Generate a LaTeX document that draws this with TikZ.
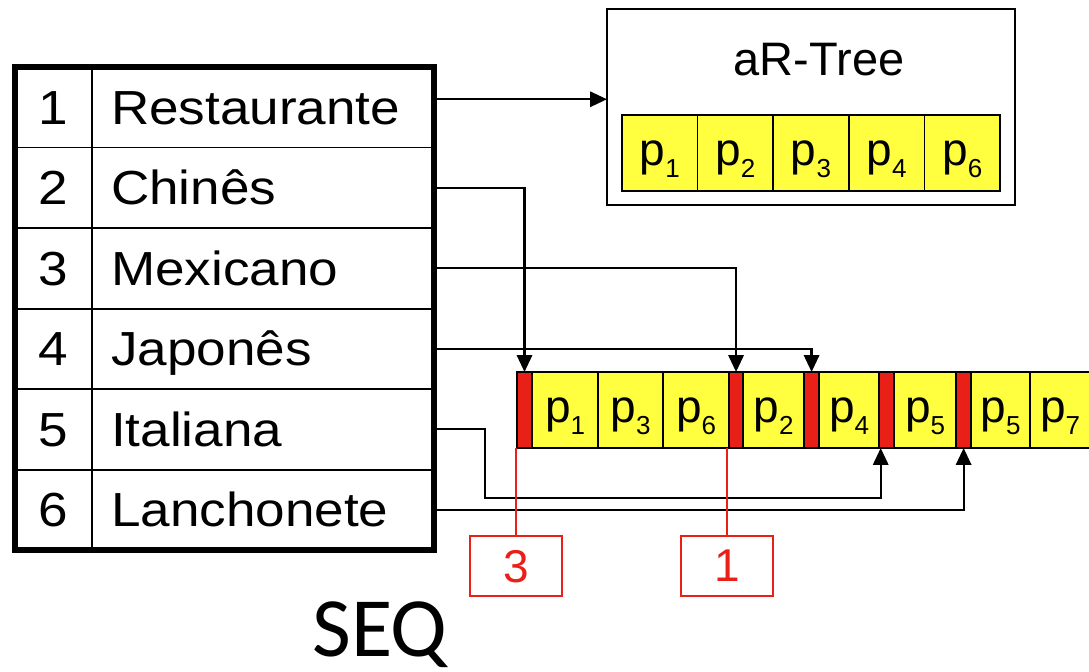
\documentclass[tikz,border=0pt]{standalone}
\usepackage{fontspec}
\setmainfont{Liberation Sans}
\newfontfamily\tabfont[FakeStretch=1.11]{Liberation Sans}
\newfontfamily\seqfont{Carlito}
\usetikzlibrary{positioning,arrows.meta}
\definecolor{cellyellow}{RGB}{255,255,64}
\definecolor{barred}{RGB}{232,32,24}
\newcommand{\pp}[1]{p\raisebox{-0.28em}{\fontsize{18.5pt}{19pt}\selectfont #1}}
\tikzset{
  numcell/.style={draw, line width=1.4pt, minimum width=1.925cm, minimum height=2.0125cm,
    inner sep=0pt, outer sep=0pt, text height=0.85cm, text depth=0pt,
    font=\tabfont\fontsize{34pt}{36pt}\selectfont},
  namecell/.style={numcell, text width=7.6cm, align=left, inner xsep=0.475cm},
  segcell/.style={draw, line width=1.1pt, fill=cellyellow, minimum height=1.9cm,
    inner sep=0pt, outer sep=0pt, text height=0.6cm, text depth=0pt,
    font=\fontsize{32.7pt}{34pt}\selectfont},
  segbar/.style={segcell, fill=barred},
  numbox/.style={draw=barred, line width=1.4pt, minimum width=2.3cm, minimum height=1.5cm,
    text=barred, text depth=0pt, font=\fontsize{32.7pt}{34pt}\selectfont},
  link/.style={line width=1.6pt, -{Triangle[length=0.42cm,width=0.38cm]}},
  redlink/.style={draw=barred, line width=1.4pt}
}
\begin{document}
\begin{tikzpicture}[x=0.025cm, y=-0.025cm]
\useasboundingbox (0,0) rectangle (1089,671);
\foreach \nm [count=\i] in {Restaurante,Chinês,Mexicano,Japonês,Italiana,Lanchonete} {
  \node[numcell] (n\i) at (53.5,{67+80.5*(\i-0.5)}) {\i};
  \node[namecell, right=0pt of n\i] (r\i) {\nm};
}
\draw[line width=4.3pt] (n1.north west) rectangle (r6.south east);
\node[draw, line width=1.4pt, minimum width=10.2cm, minimum height=4.9cm, outer sep=0pt] (tree) at (811,107) {};
\node[font=\fontsize{33.4pt}{35pt}\selectfont] (treelabel) at (819,60) {aR-Tree};
\foreach \lb [count=\i] in {1,2,3,4,6}
  \node[segcell, minimum width=1.89cm] (a\i) at ({622+75.6*(\i-0.5)},153) {\pp{\lb}};
\coordinate (s0) at (517,410);
\foreach \nm/\w/\st/\lb [remember=\nm as \prev (initially s0)] in
  {b0/0.375/segbar/{}, c1/1.65/segcell/\pp{1}, c2/1.625/segcell/\pp{3}, c3/1.65/segcell/\pp{6},
   b1/0.35/segbar/{}, c4/1.525/segcell/\pp{2}, b2/0.375/segbar/{}, c5/1.5/segcell/\pp{4},
   b3/0.375/segbar/{}, c6/1.55/segcell/\pp{5}, b4/0.375/segbar/{}, c7/1.475/segcell/\pp{5},
   c8/1.5/segcell/\pp{7}}
  \node[\st, minimum width=\w cm, right=0pt of \prev] (\nm) {\lb};
\node[numbox] (box3) at (516,566) {3};
\node[numbox] (box1) at (727,566) {1};
\node[font=\seqfont\fontsize{60pt}{62pt}\selectfont, anchor=base, inner sep=0pt] (seqlabel) at (380,656) {SEQ};
\draw[link] ([yshift=0.2cm]r1.east) coordinate (t1) -- (t1 -| tree.west);
\draw[link] (r2.east) -| (b0.north);
\draw[link] (r3.east) -| (b1.north);
\draw[link] (r4.east) -| (b2.north);
\coordinate (k5) at (485,498);
\draw[link] (r5.east) -| (k5) -| ([xshift=0.04cm]b3.south west);
\draw[link] (r6.east) -| (b4.south);
\draw[redlink] (box3.north) -- (box3.north |- b0.south);
\draw[redlink] (box1.north) -- (box1.north |- b1.south);
\end{tikzpicture}
\end{document}
